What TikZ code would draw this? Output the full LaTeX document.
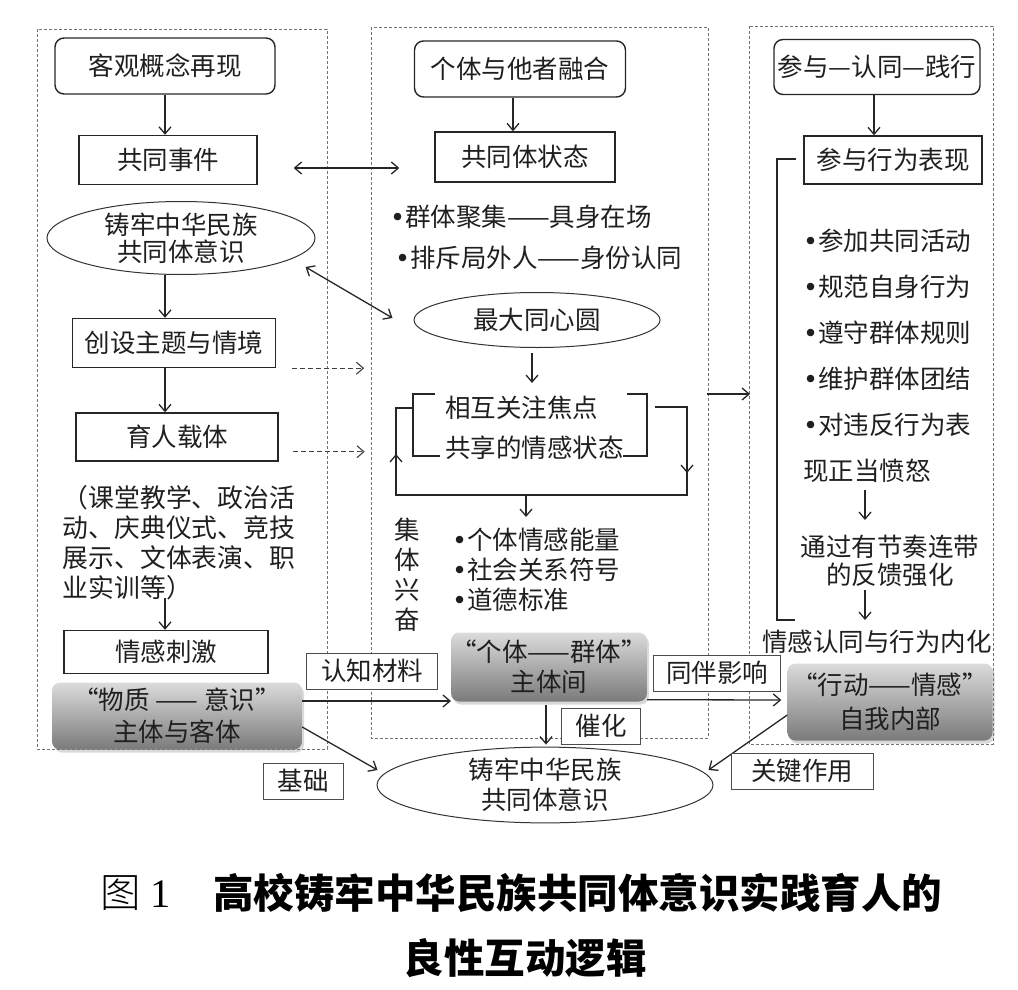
\documentclass[tikz,border=0pt]{standalone}
\usepackage{fontspec}
\setmainfont{Noto Sans CJK SC}
\newfontfamily\serifnum{Liberation Serif}
\newfontfamily\lightcjk{Noto Sans CJK SC Light}
\newfontfamily\dejavu{DejaVu Sans}
\newcommand{\bul}{{\dejavu\char"2022}}
\usetikzlibrary{arrows.meta,shapes.geometric,shadows,calc}
\begin{document}
\begin{tikzpicture}[x=1pt,y=-1pt,
  every node/.style={font=\fontsize{25.5}{30}\selectfont, text=black!88, inner sep=0pt},
  frame/.style={draw=black!55, dash pattern=on 3pt off 2pt, line width=0.9pt},
  rbox/.style={draw=black!85, rounded corners=9pt, line width=1.4pt},
  sbox/.style={draw=black!85, line width=1.4pt},
  ell/.style={draw=black!80, ellipse, line width=1pt, align=center},
  gbox/.style={rounded corners=8pt, top color=black!14, bottom color=black!52, align=center,
     drop shadow={opacity=0.3, shadow xshift=2pt, shadow yshift=-3pt}},
  lbl/.style={draw=black!70, line width=0.9pt, fill=white},
  ln/.style={line width=1.3pt, draw=black!85},
  arr/.style={ln, -{Straight Barb[length=7pt,width=12pt]}},
  dblarr/.style={ln, {Straight Barb[length=7pt,width=12pt]}-{Straight Barb[length=7pt,width=12pt]}},
  darr/.style={arr, draw=black!75, dash pattern=on 5pt off 3pt, line width=1.1pt},
]
\useasboundingbox (0,0) rectangle (1018,990);

% frames
\draw[frame] (37,29) rectangle (327,749);
\draw[frame] (371,27) rectangle (708,738);
\draw[frame] (749,26) rectangle (993,744);

% ---------------- left column
\node[rbox, minimum width=220, minimum height=56] (a1) at (165,66) {客观概念再现};
\node[sbox, minimum width=178, minimum height=49] (a2) at (168,160) {共同事件};
\node[ell, minimum width=268, minimum height=73, font=\fontsize{25.5}{27}\selectfont] (a3) at (181,238) {铸牢中华民族\\共同体意识};
\node[sbox, minimum width=203, minimum height=49] (a4) at (174,343) {创设主题与情境};
\node[sbox, minimum width=202, minimum height=48] (a5) at (177,437) {育人载体};
\node[align=left, font=\fontsize{25.8}{30}\selectfont] (a6) at (179,543) {（课堂教学、政治活\\动、庆典仪式、竞技\\展示、文体表演、职\\业实训等）};
\node[sbox, minimum width=204, minimum height=43] (a7) at (166,652) {情感刺激};
\node[gbox, minimum width=250, minimum height=67, font=\fontsize{25.5}{32}\selectfont] (a8) at (177,716) {“物质 —— 意识”\\主体与客体};

\coordinate (colA) at (a1.south);
\draw[arr] (a1.south) -- (a1.south |- a2.north);
\draw[arr] (a3.south -| colA) -- (a4.north -| colA);
\draw[arr] (a4.south -| colA) -- (a5.north -| colA);
\draw[arr] ($(a6.south -| colA)+(0,-2)$) -- (a7.north -| colA);
\draw[darr] ($(a4.south east)+(16,0)$) -- ++(72,0);
\draw[darr] ($(a5.south east)+(14,-10)$) -- ++(72,0);

% ---------------- middle column
\node[rbox, minimum width=211, minimum height=56] (b1) at (520,69) {个体与他者融合};
\node[sbox, minimum width=180, minimum height=50] (b2) at (525,157) {共同体状态};
\node[anchor=west] (b3) at (390,217) {\bul 群体聚集——具身在场};
\node[anchor=west] (b4) at (395,258) {\bul 排斥局外人——身份认同};
\node[ell, minimum width=246, minimum height=55] (b5) at (537,320) {最大同心圆};
\node[anchor=west] (b6) at (445,408) {相互关注焦点};
\node[anchor=west] (b7) at (445,448) {共享的情感状态};
\node[align=center, font=\fontsize{25.5}{30}\selectfont] (b8) at (407,575) {集\\体\\兴\\奋};
\node[anchor=west, align=left, font=\fontsize{25.5}{30}\selectfont] (b9) at (452,570) {\bul 个体情感能量\\\bul 社会关系符号\\\bul 道德标准};
\node[gbox, minimum width=195, minimum height=69, font=\fontsize{25.5}{30}\selectfont] (b10) at (549,667) {“个体——群体”\\主体间};

\coordinate (bx) at ($(b1.south)+(-7,0)$);
\draw[arr] (bx) -- (bx |- b2.north);
\draw[dblarr] ($(a2.east)+(36,8)$) -- ($(b2.west)+(-35,11)$);
\draw[dblarr] ($(a3.east)+(-10,29)$) -- ($(b5.west)+(-21,-2)$);
\draw[arr] ($(b5.south)+(-5,5)$) -- ++(0,30);

% brackets
\draw[ln] (435,394) -- (413,394) -- (413,456) -- (440,456);
\draw[ln] (627,394) -- (647,394) -- (647,456) -- (623,456);
% feedback loop
\coordinate (lpL) at (396,495);
\coordinate (lpR) at (687,495);
\draw[ln] (413,408) -- (lpL |- 0,408) -- (lpL) -- (lpR) -- (lpR |- 0,407) -- (655,407);
\draw[arr] ($(lpL)+(0,-25)$) -- ($(lpL)+(0,-41)$);
\draw[arr] ($(lpR)+(0,-45)$) -- ($(lpR)+(0,-22)$);
\draw[arr] (526,495) -- (526,517);

% ---------------- right column
\node[rbox, minimum width=206, minimum height=55] (c1) at (877,67) {参与—认同—践行};
\node[sbox, minimum width=178, minimum height=48] (c2) at (893,160) {参与行为表现};
\node[anchor=west, align=left, font=\fontsize{25.5}{46}\selectfont] (c3) at (803,356) {\bul 参加共同活动\\\bul 规范自身行为\\\bul 遵守群体规则\\\bul 维护群体团结\\\bul 对违反行为表\\现正当愤怒};
\node[align=center, font=\fontsize{25.5}{28}\selectfont] (c4) at (890,561) {通过有节奏连带\\的反馈强化};
\node (c5) at (877,642) {情感认同与行为内化};
\node[gbox, minimum width=205, minimum height=77, font=\fontsize{25.5}{34}\selectfont] (c6) at (890,702) {“行动——情感”\\自我内部};

\coordinate (cx) at ($(c1.south)+(-3,0)$);
\draw[arr] (cx) -- (cx |- c2.north);
\draw[ln] ($(c2.west)+(-7,-1)$) -- (777,159) -- (777,620) -- (795,620);
\coordinate (rx) at (865,0);
\draw[arr] (rx |- 0,490) -- (rx |- 0,520);
\draw[arr] (rx |- 0,590) -- (rx |- 0,620);
\draw[arr] (707,394) -- (750,394);

% ---------------- bottom
\node[ell, minimum width=336, minimum height=66, font=\fontsize{25.5}{30}\selectfont] (c0) at (545,785) {铸牢中华民族\\共同体意识};

\coordinate (ax) at ($(a8.east)+(0,-15)$);
\draw[arr] (ax) -- (ax -| b10.west);
\draw[arr] ($(a8.east)+(0,11)$) -- ($(c0.west)+(1,-15)$);
\draw[arr] ($(b10.south)+(-3,3)$) -- ($(c0.north)+(1,-2)$);
\draw[arr] ($(b10.south east)+(0,-2)$) -- ($(c6.west)+(-6,-2)$);
\draw[arr] ($(c6.west)+(0,13)$) -- ($(c0.east)+(-5,-15)$);

\node[lbl, minimum width=131, minimum height=36] (l1) at (372,671) {认知材料};
\node[lbl, minimum width=79, minimum height=36] (l2) at (601,726) {催化};
\node[lbl, minimum width=80, minimum height=36] (l3) at (303,781) {基础};
\node[lbl, minimum width=127, minimum height=36] (l4) at (717,673) {同伴影响};
\node[lbl, minimum width=142, minimum height=36] (l5) at (802,771) {关键作用};

% caption
\node[anchor=west, text=black, font=\fontsize{40.5}{48}\selectfont] (cap0) at (100,893) {\lightcjk 图\hspace{10pt}\serifnum 1};
\node[anchor=west, text=black, font=\fontsize{40.5}{48}\selectfont\bfseries] (cap1) at (213,893) {高校铸牢中华民族共同体意识实践育人的};
\node[text=black, font=\fontsize{40.5}{48}\selectfont\bfseries] (cap2) at (525,958) {良性互动逻辑};
\end{tikzpicture}
\end{document}
